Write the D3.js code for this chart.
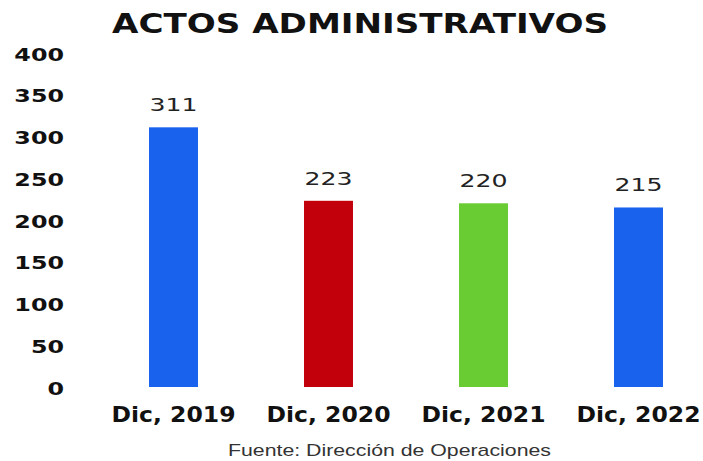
<!DOCTYPE html>
<html>
<head>
<meta charset="utf-8">
<script src="https://cdn.jsdelivr.net/npm/d3@7"></script>
<style>
  html, body { margin: 0; padding: 0; background: #fff; }
  svg { display: block; }
</style>
</head>
<body>
<script>
const categories = ["Dic, 2019", "Dic, 2020", "Dic, 2021", "Dic, 2022"];
const values = [311, 223, 220, 215];
const barColors = ["#1862ee", "#c2000b", "#69cc33", "#1862ee"];
const yTicks = [0, 50, 100, 150, 200, 250, 300, 350, 400];
const titleText = "ACTOS ADMINISTRATIVOS";
const sourceText = "Fuente: Dirección de Operaciones";

const W = 703, H = 461;
const svg = d3.select("body").append("svg").attr("width", W).attr("height", H);
svg.append("rect").attr("width", W).attr("height", H).attr("fill", "#fff");

const x = d3.scaleBand().domain(categories).range([96, 716])
  .paddingInner(0.684).paddingOuter(0.342);
const y = d3.scaleLinear().domain([0, 400]).range([387, 53]);

// Title
svg.append("text")
  .attr("x", 112).attr("y", 33)
  .attr("font-family", "DejaVu Sans").attr("font-weight", "bold")
  .attr("font-size", 26).attr("fill", "#111")
  .attr("textLength", 496).attr("lengthAdjust", "spacingAndGlyphs")
  .text(titleText);

// Y axis tick labels (no axis line)
const yAxis = d3.axisLeft(y).tickValues(yTicks).tickSize(0).tickPadding(0);
const gy = svg.append("g").attr("transform", "translate(64,0)").call(yAxis);
gy.select(".domain").remove();
gy.selectAll(".tick text")
  .attr("font-family", "DejaVu Sans").attr("font-weight", "bold")
  .attr("font-size", 17).attr("fill", "#111")
  .attr("x", 0).attr("dy", null).attr("y", 7)
  .attr("text-anchor", "end")
  .attr("transform", "scale(1.4,1)");
gy.selectAll(".tick").each(function () {
  const t = d3.select(this);
  const tr = t.attr("transform");
  const ty = +tr.match(/,\s*([-\d.]+)\)/)[1];
  t.attr("transform", `translate(0,${ty}) `);
});
gy.selectAll(".tick text").attr("transform", "scale(1.4,1)");

// Bars
svg.selectAll("rect.bar").data(values).join("rect")
  .attr("class", "bar")
  .attr("x", (d, i) => x(categories[i]))
  .attr("y", d => y(d))
  .attr("width", x.bandwidth())
  .attr("height", d => y(0) - y(d))
  .attr("fill", (d, i) => barColors[i]);

// Value labels
svg.selectAll("text.val").data(values).join("text")
  .attr("class", "val")
  .attr("transform", (d, i) => `translate(${x(categories[i]) + x.bandwidth() / 2},${y(d) - 16}) scale(1.4,1)`)
  .attr("text-anchor", "middle")
  .attr("font-family", "DejaVu Sans")
  .attr("font-size", 18).attr("fill", "#222")
  .text(d => d);

// X axis labels
const xAxis = d3.axisBottom(x).tickSize(0).tickPadding(0);
const gx = svg.append("g").attr("transform", "translate(0,422)").call(xAxis);
gx.select(".domain").remove();
gx.selectAll(".tick text")
  .attr("y", 0).attr("dy", null)
  .attr("font-family", "DejaVu Sans").attr("font-weight", "bold")
  .attr("font-size", 21).attr("fill", "#111")
  .attr("transform", "scale(1.12,1)");

// Source
svg.append("text")
  .attr("x", 228).attr("y", 456)
  .attr("font-family", "Liberation Sans")
  .attr("font-size", 17).attr("fill", "#333")
  .attr("textLength", 323).attr("lengthAdjust", "spacingAndGlyphs")
  .text(sourceText);
</script>
</body>
</html>
